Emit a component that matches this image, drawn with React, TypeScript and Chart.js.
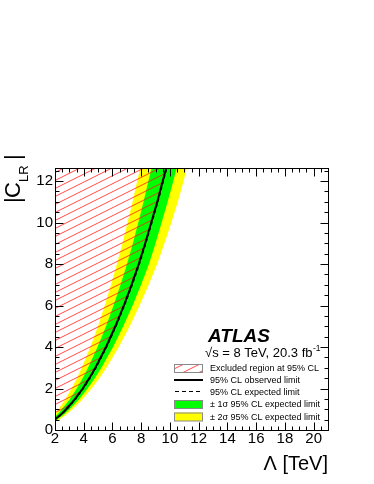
import React, { useEffect, useRef } from 'react';
import { Chart, registerables } from 'chart.js';

Chart.register(...registerables);

const FONT = '"Liberation Sans", Arial, Helvetica, sans-serif';

// |C_LR| values (y) at which the limit curves are sampled
const C_GRID = [0.3, 0.5, 0.75, 1, 1.5, 2, 2.5, 3, 4, 5, 6, 7, 8, 9, 10, 11, 12, 13];
// Lambda [TeV] (x) of each curve at those |C_LR| values
const YELLOW_LO = [1.22, 1.58, 1.93, 2.23, 2.73, 3.15, 3.53, 3.86, 4.46, 4.99, 5.46, 5.9, 6.31, 6.69, 7.05, 7.4, 7.72, 8.05];
const GREEN_LO = [1.36, 1.75, 2.15, 2.48, 3.04, 3.51, 3.92, 4.3, 4.96, 5.55, 6.07, 6.56, 7.01, 7.42, 7.8, 8.16, 8.5, 8.85];
const OBSERVED = [1.52, 1.97, 2.41, 2.78, 3.4, 3.93, 4.39, 4.81, 5.55, 6.2, 6.79, 7.33, 7.83, 8.28, 8.7, 9.12, 9.5, 9.88];
const EXPECTED = [1.56, 2.01, 2.45, 2.83, 3.45, 3.98, 4.44, 4.86, 5.6, 6.25, 6.84, 7.38, 7.88, 8.33, 8.75, 9.17, 9.55, 9.93];
const GREEN_HI = [1.65, 2.14, 2.62, 3.02, 3.7, 4.27, 4.77, 5.23, 6.04, 6.75, 7.4, 7.99, 8.54, 9.0, 9.42, 9.84, 10.24, 10.6];
const YELLOW_HI = [1.76, 2.28, 2.79, 3.22, 3.94, 4.55, 5.09, 5.58, 6.44, 7.2, 7.89, 8.52, 9.11, 9.62, 10.1, 10.55, 10.95, 11.32];

const X_MIN = 2;
const X_MAX = 21;
const Y_MIN = 0;
const Y_MAX = 12.63;
const X_TICKS = [2, 4, 6, 8, 10, 12, 14, 16, 18, 20];
const Y_TICKS = [0, 2, 4, 6, 8, 10, 12];

const LEGEND_LABELS = [
  'Excluded region at 95% CL',
  '95% CL observed limit',
  '95% CL expected limit',
  '\u00B1 1\u03C3 95% CL expected limit',
  '\u00B1 2\u03C3 95% CL expected limit',
];

const curve = (xs: number[]) => xs.map((v, i) => ({ x: v, y: C_GRID[i] }));

// closed polygon between two curves; extra vertices lie outside the plot area
const band = (lo: number[], hi: number[]) => [
  { x: -10, y: 14 },
  ...curve(lo).reverse(),
  ...curve(hi),
  { x: 30, y: 14 },
];

const excluded = () => [
  { x: -10, y: 14 },
  { x: -5, y: 14 },
  { x: -10, y: C_GRID[0] },
  ...curve(OBSERVED),
  { x: 30, y: 14 },
];

function makeHatch(): CanvasPattern | string {
  const c = document.createElement('canvas');
  c.width = 16;
  c.height = 8;
  const g = c.getContext('2d');
  if (!g) return 'rgba(255,0,0,0.3)';
  g.strokeStyle = 'rgba(255,25,25,0.8)';
  g.lineWidth = 1;
  for (const k of [-8, 0, 8]) {
    g.beginPath();
    g.moveTo(0, 8 + k);
    g.lineTo(16, k);
    g.stroke();
  }
  return g.createPattern(c, 'repeat') || 'rgba(255,0,0,0.3)';
}

export default function App() {
  const ref = useRef<HTMLCanvasElement | null>(null);

  useEffect(() => {
    const canvas = ref.current;
    if (!canvas) return;
    const hatch = makeHatch();

    const overlay = {
      id: 'overlay',
      afterDraw(chart: any) {
        const { ctx, chartArea: a, scales } = chart;
        const xs = scales.x;
        const ys = scales.y;
        ctx.save();
        ctx.strokeStyle = '#000';
        ctx.lineWidth = 1;
        const L = Math.round(a.left) + 0.5;
        const R = Math.round(a.right) + 0.5;
        const T = Math.round(a.top) + 0.5;
        const B = Math.round(a.bottom) + 0.5;
        ctx.strokeRect(L, T, R - L, B - T);
        const seg = (x1: number, y1: number, x2: number, y2: number) => {
          ctx.beginPath();
          ctx.moveTo(x1, y1);
          ctx.lineTo(x2, y2);
          ctx.stroke();
        };
        for (let i = 0; X_MIN + i * 0.5 <= X_MAX + 1e-9; i++) {
          const v = X_MIN + i * 0.5;
          const px = Math.round(xs.getPixelForValue(v)) + 0.5;
          const len = Math.abs(v % 2) < 1e-9 ? 8 : 4;
          seg(px, B, px, B - len);
          seg(px, T, px, T + len);
        }
        for (let i = 0; Y_MIN + i * 0.5 <= Y_MAX + 1e-9; i++) {
          const v = Y_MIN + i * 0.5;
          const py = Math.round(ys.getPixelForValue(v)) + 0.5;
          const len = Math.abs(v % 2) < 1e-9 ? 8 : 4;
          seg(L, py, L + len, py);
          seg(R, py, R - len, py);
        }

        ctx.fillStyle = '#000';
        ctx.textBaseline = 'alphabetic';
        // x title
        ctx.font = `20px ${FONT}`;
        ctx.textAlign = 'right';
        ctx.fillText('\u039B [TeV]', R - 0.5, 470);
        // y title, rotated
        ctx.save();
        ctx.translate(19.5, 0);
        ctx.rotate(-Math.PI / 2);
        ctx.textAlign = 'left';
        ctx.font = `22px ${FONT}`;
        ctx.fillText('|', -203, 0);
        ctx.fillText('C', -198, 0);
        ctx.font = `13px ${FONT}`;
        ctx.fillText('LR', -182, 8);
        ctx.font = `22px ${FONT}`;
        ctx.fillText('|', -160, 0);
        ctx.restore();

        // ATLAS label
        ctx.textAlign = 'left';
        ctx.font = `italic bold 19px ${FONT}`;
        ctx.fillText('ATLAS', 208, 342);
        ctx.font = `13px ${FONT}`;
        const lumi = '\u221As = 8 TeV, 20.3 fb';
        ctx.fillText(lumi, 205, 357);
        const w = ctx.measureText(lumi).width;
        ctx.font = `8.5px ${FONT}`;
        ctx.fillText('-1', 205 + w + 0.5, 351);

        // legend
        const bx = 174;
        const bw = 29;
        const tx = 210;
        const rowY = [368, 380, 391.5, 404, 416.5];
        ctx.font = `9px ${FONT}`;
        LEGEND_LABELS.forEach((lab, i) => {
          ctx.fillStyle = '#000';
          ctx.fillText(lab, tx, rowY[i] + 3.3);
        });
        ctx.strokeStyle = '#8a8a8a';
        ctx.lineWidth = 1;
        // hatch box
        ctx.fillStyle = hatch;
        ctx.fillRect(bx, rowY[0] - 4, bw, 8);
        ctx.strokeRect(bx + 0.5, rowY[0] - 4 + 0.5, bw - 1, 8);
        // green
        ctx.fillStyle = '#00ff00';
        ctx.fillRect(bx, rowY[3] - 4, bw, 8.5);
        ctx.strokeRect(bx + 0.5, rowY[3] - 4 + 0.5, bw - 1, 8);
        // yellow
        ctx.fillStyle = '#ffff00';
        ctx.fillRect(bx, rowY[4] - 4, bw, 8.5);
        ctx.strokeRect(bx + 0.5, rowY[4] - 4 + 0.5, bw - 1, 8);
        // lines
        ctx.strokeStyle = '#000';
        ctx.lineWidth = 2;
        seg(bx, rowY[1], bx + bw, rowY[1]);
        ctx.lineWidth = 1.2;
        ctx.setLineDash([4, 3]);
        seg(bx + 1, rowY[2], bx + bw, rowY[2]);
        ctx.setLineDash([]);
        ctx.restore();
      },
    };

    const chart = new Chart(canvas, {
      type: 'line',
      data: {
        datasets: [
          {
            label: '2 sigma',
            data: band(YELLOW_LO, YELLOW_HI),
            fill: 'shape',
            backgroundColor: '#ffff00',
            borderColor: 'rgba(0,0,0,0)',
            borderWidth: 0,
            pointRadius: 0,
            order: 5,
          },
          {
            label: '1 sigma',
            data: band(GREEN_LO, GREEN_HI),
            fill: 'shape',
            backgroundColor: '#00ff00',
            borderColor: 'rgba(0,0,0,0)',
            borderWidth: 0,
            pointRadius: 0,
            order: 4,
          },
          {
            label: 'excluded',
            data: excluded(),
            fill: 'shape',
            backgroundColor: hatch as any,
            borderColor: 'rgba(0,0,0,0)',
            borderWidth: 0,
            pointRadius: 0,
            order: 3,
          },
          {
            label: 'expected',
            data: curve(EXPECTED),
            fill: false,
            borderColor: '#000',
            borderWidth: 1.2,
            borderDash: [3, 3],
            pointRadius: 0,
            order: 2,
          },
          {
            label: 'observed',
            data: curve(OBSERVED),
            fill: false,
            borderColor: '#000',
            borderWidth: 2,
            pointRadius: 0,
            order: 1,
          },
        ],
      },
      options: {
        responsive: false,
        devicePixelRatio: 1,
        animation: false,
        events: [],
        layout: { padding: { left: 10, right: 46, top: 168, bottom: 30 } },
        plugins: { legend: { display: false }, tooltip: { enabled: false } },
        scales: {
          x: {
            type: 'linear',
            min: X_MIN,
            max: X_MAX,
            grid: { display: false, drawTicks: false },
            border: { display: false },
            ticks: { color: '#000', font: { family: FONT, size: 15 }, padding: 0, autoSkip: false, maxRotation: 0 },
            afterBuildTicks: (s: any) => {
              s.ticks = X_TICKS.map((v) => ({ value: v }));
            },
            afterFit: (s: any) => {
              s.height = 24;
            },
          },
          y: {
            type: 'linear',
            min: Y_MIN,
            max: Y_MAX,
            grid: { display: false, drawTicks: false },
            border: { display: false },
            ticks: { color: '#000', font: { family: FONT, size: 15 }, padding: 2, autoSkip: false },
            afterBuildTicks: (s: any) => {
              s.ticks = Y_TICKS.map((v) => ({ value: v }));
            },
            afterFit: (s: any) => {
              s.width = 45;
            },
          },
        },
      },
      plugins: [overlay],
    } as any);

    return () => chart.destroy();
  }, []);

  return (
    <canvas
      ref={ref}
      width={374}
      height={484}
      style={{ position: 'absolute', left: 0, top: 0, width: 374, height: 484 }}
    />
  );
}
